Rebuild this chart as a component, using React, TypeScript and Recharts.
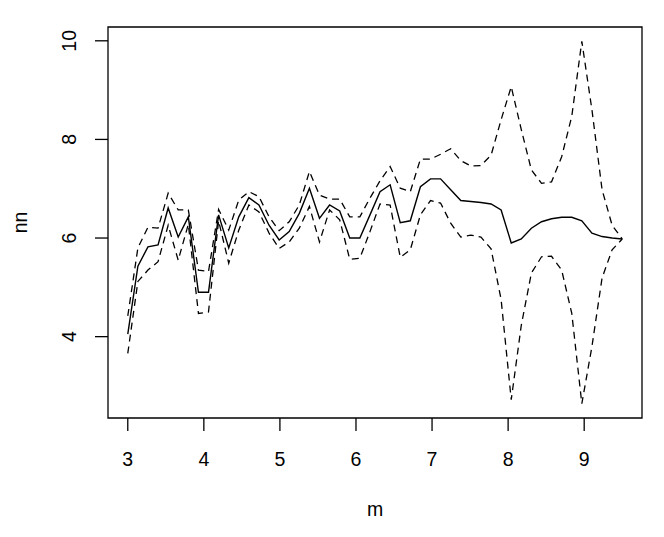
import React from "react";
import { LineChart, Line, XAxis, YAxis, ReferenceArea } from "recharts";

const mValues = [
  3.0, 3.133, 3.265, 3.398, 3.531, 3.663, 3.796, 3.929, 4.061, 4.194,
  4.327, 4.459, 4.592, 4.724, 4.857, 4.99, 5.122, 5.255, 5.388, 5.52,
  5.653, 5.786, 5.918, 6.051, 6.184, 6.316, 6.449, 6.582, 6.714, 6.847,
  6.98, 7.112, 7.245, 7.378, 7.51, 7.643, 7.776, 7.908, 8.041, 8.173,
  8.306, 8.439, 8.571, 8.704, 8.837, 8.969, 9.102, 9.235, 9.367, 9.5,
];

const fitValues = [
  4.05, 5.43, 5.82, 5.86, 6.61, 6.02, 6.43, 4.9, 4.9, 6.47,
  5.8, 6.43, 6.82, 6.67, 6.26, 5.96, 6.13, 6.5, 7.01, 6.4,
  6.67, 6.55, 6.0, 6.0, 6.47, 6.94, 7.08, 6.31, 6.35, 7.04,
  7.2, 7.2, 6.98, 6.76, 6.74, 6.72, 6.69, 6.57, 5.9, 5.98,
  6.2, 6.33, 6.39, 6.42, 6.42, 6.35, 6.1, 6.03, 6.0, 5.98,
];

const upperValues = [
  4.42, 5.8, 6.22, 6.2, 6.91, 6.57, 6.57, 5.35, 5.32, 6.58,
  6.16, 6.77, 6.94, 6.84, 6.43, 6.15, 6.33, 6.67, 7.35, 6.87,
  6.79, 6.79, 6.43, 6.43, 6.81, 7.16, 7.45, 7.01, 6.94, 7.6,
  7.6, 7.7, 7.81, 7.57, 7.46, 7.47, 7.68, 8.4, 9.07, 8.2,
  7.38, 7.11, 7.14, 7.65, 8.47, 9.99, 8.6, 6.98, 6.26, 5.98,
];

const lowerValues = [
  3.66, 5.12, 5.35, 5.52, 6.26, 5.55, 6.28, 4.47, 4.5, 6.35,
  5.49, 6.16, 6.67, 6.53, 6.1, 5.79, 5.92, 6.2, 6.64, 5.92,
  6.57, 6.37, 5.57, 5.59, 6.13, 6.69, 6.67, 5.61, 5.76, 6.47,
  6.76, 6.71, 6.3, 6.02, 6.06, 6.02, 5.78, 4.75, 2.72, 4.23,
  5.29, 5.62, 5.63, 5.35, 4.47, 2.64, 3.8, 5.19, 5.76, 5.98,
];

const xTicks = [3, 4, 5, 6, 7, 8, 9];
const yTicks = [4, 6, 8, 10];
const xDomain: [number, number] = [2.74, 9.76];
const yDomain: [number, number] = [2.35, 10.28];

const data = mValues.map((m, i) => ({
  m,
  fit: fitValues[i],
  upper: upperValues[i],
  lower: lowerValues[i],
}));

const FONT = "'Liberation Sans', Arial, Helvetica, sans-serif";
const FS = 19.5;

const XTick = (props: any) => {
  const { x, y, payload } = props;
  return (
    <text x={x} y={y + 33} textAnchor="middle" fontFamily={FONT} fontSize={FS} fill="#000">
      {payload.value}
    </text>
  );
};

const YTick = (props: any) => {
  const { x, y, payload } = props;
  const bx = x - 17;
  return (
    <text
      x={bx}
      y={y}
      textAnchor="middle"
      transform={`rotate(-90, ${bx}, ${y})`}
      fontFamily={FONT}
      fontSize={FS}
      fill="#000"
    >
      {payload.value}
    </text>
  );
};

export default function App() {
  return (
    <div style={{ position: "absolute", left: 0, top: 0, background: "#fff" }}>
      <LineChart
        width={664}
        height={537}
        data={data}
        margin={{ top: 27, right: 22, bottom: 0, left: 0 }}
      >
        <XAxis
          dataKey="m"
          type="number"
          domain={xDomain}
          ticks={xTicks}
          allowDataOverflow
          height={119}
          axisLine={false}
          tickLine={{ stroke: "#000", strokeWidth: 1.3 }}
          tickSize={13}
          tick={<XTick />}
          interval={0}
          label={{
            content: (p: any) => {
              const vb = p.viewBox;
              return (
                <text
                  x={vb.x + vb.width / 2}
                  y={vb.y + 98}
                  textAnchor="middle"
                  fontFamily={FONT}
                  fontSize={FS}
                  fill="#000"
                >
                  m
                </text>
              );
            },
          }}
        />
        <YAxis
          type="number"
          domain={yDomain}
          ticks={yTicks}
          allowDataOverflow
          width={108}
          axisLine={false}
          tickLine={{ stroke: "#000", strokeWidth: 1.3 }}
          tickSize={13}
          tick={<YTick />}
          interval={0}
          label={{
            content: (p: any) => {
              const vb = p.viewBox;
              const cx = vb.x + 27;
              const cy = vb.y + vb.height / 2;
              return (
                <text
                  x={cx}
                  y={cy}
                  textAnchor="middle"
                  transform={`rotate(-90, ${cx}, ${cy})`}
                  fontFamily={FONT}
                  fontSize={FS}
                  fill="#000"
                >
                  nn
                </text>
              );
            },
          }}
        />
        <ReferenceArea
          x1={xDomain[0]}
          x2={xDomain[1]}
          y1={yDomain[0]}
          y2={yDomain[1]}
          fill="none"
          fillOpacity={0}
          stroke="#000"
          strokeWidth={1.3}
          ifOverflow="visible"
        />
        <Line
          type="linear"
          dataKey="fit"
          stroke="#000"
          strokeWidth={1.4}
          dot={false}
          isAnimationActive={false}
        />
        <Line
          type="linear"
          dataKey="upper"
          stroke="#000"
          strokeWidth={1.3}
          strokeDasharray="7 5"
          dot={false}
          isAnimationActive={false}
        />
        <Line
          type="linear"
          dataKey="lower"
          stroke="#000"
          strokeWidth={1.3}
          strokeDasharray="7 5"
          dot={false}
          isAnimationActive={false}
        />
      </LineChart>
    </div>
  );
}
